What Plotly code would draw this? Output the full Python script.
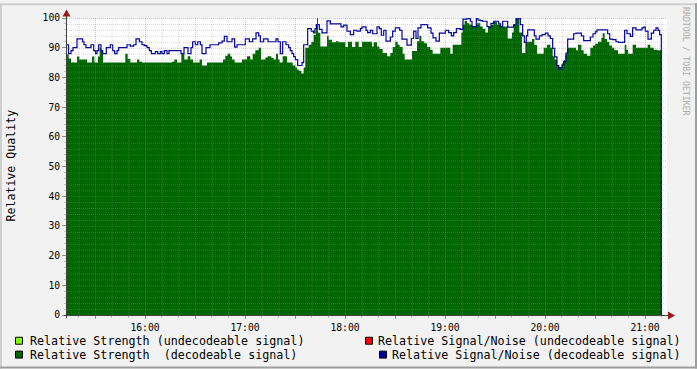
import plotly.graph_objects as go
from datetime import datetime, timedelta

# ---------------- data (minutes after 15:00, values in %) ----------------
snr_minutes = [13.2, 14.1, 15.6, 16.8, 19.2, 22.6, 23.4, 24.6, 27.6, 29.2, 30.3, 31.2, 32.2, 33.6, 34.6,
               36.8, 39.2, 40.6, 41.8, 43.2, 44.2, 49.2, 51.2, 53.2, 54.6, 56.6, 58.2, 59.6, 61.2, 62.6,
               63.8, 66.2, 67.6, 69.2, 70.2, 71.6, 73.2, 74.4, 81.6, 83.4, 85.8, 87.6, 88.6, 90.2, 91.6,
               93.2, 94.2, 96.6, 99.0, 104.2, 106.2, 107.6, 109.2, 112.2, 113.8, 115.2, 120.2, 122.6,
               124.6, 126.6, 128.2, 129.2, 131.2, 133.8, 138.6, 139.8, 141.2, 142.6, 144.6, 146.2, 147.2,
               148.2, 149.2, 150.2, 151.6, 154.2, 155.2, 157.6, 159.8, 161.2, 162.0, 162.8, 164.6, 166.2,
               169.2, 171.2, 177.6, 179.2, 181.2, 183.2, 185.2, 187.2, 189.2, 190.2, 192.6, 193.6, 195.2,
               196.6, 199.2, 200.6, 201.8, 203.2, 204.6, 207.2, 208.6, 210.2, 212.8, 214.2, 217.2, 219.8,
               221.2, 222.6, 223.8, 225.6, 229.6, 231.6, 232.8, 234.6, 236.6, 240.2, 242.2, 243.8, 245.2,
               246.8, 249.2, 250.8, 253.2, 255.2, 256.2, 258.8, 259.8, 261.2, 262.6, 265.2, 266.4, 267.6,
               269.2, 272.2, 273.2, 274.6, 277.6, 281.2, 282.6, 285.2, 286.6, 287.6, 288.8, 289.6, 293.6,
               294.6, 296.6, 298.2, 300.2, 301.8, 303.2, 304.6, 305.8, 307.2, 308.2, 310.2, 311.2, 312.6,
               313.6, 317.2, 318.6, 321.8, 323.2, 327.2, 328.8, 330.2, 331.2, 337.6, 338.8, 340.6, 342.6,
               344.2, 347.8, 349.2, 351.2, 352.6, 354.6, 358.2, 359.2, 360.2, 361.8, 363.8, 365.2, 366.6,
               367.8, 368.8, 369.8]
snr_values = [91, 88, 89, 90, 93, 92, 91, 90, 91, 89, 88, 89, 91, 89, 88,
              90, 91, 89, 88, 89, 90, 91, 90.5, 91, 93, 92, 91, 90.7, 90, 89,
              88, 88.7, 88, 88.7, 88, 89, 88, 89, 88, 90, 88, 90, 92, 91, 92,
              91, 88, 90, 91, 91.6, 92.2, 93.8, 92, 93, 90.2, 91, 93, 92,
              93, 95, 94, 92, 93, 92, 93, 92, 88, 92, 91, 90, 89,
              88, 87, 86, 84, 85, 91, 96.4, 95.6, 95, 96.4, 97.8, 96.2, 95,
              99, 98, 97, 97.6, 95.6, 94.4, 95.8, 95.6, 96.4, 97, 95.8, 95.1, 95.8,
              94.7, 97, 96.4, 94.2, 95.8, 92.2, 93.6, 95.6, 96.7, 95.8, 92.9, 90.9, 93.1,
              95.6, 93.1, 96.7, 97.8, 96.7, 94.9, 93.3, 92.2, 94.9, 95.8, 95.1, 94, 95.1,
              96.4, 96.2, 99.6, 99.8, 98.9, 97.1, 99.8, 99.3, 99.1, 98.9, 97.1, 96.9, 98.2,
              98.9, 98, 97.1, 98.9, 96.9, 97.8, 99.8, 97.8, 94, 91.8, 94, 96, 94,
              92.9, 94, 94.4, 94.9, 94, 93.1, 89.8, 86.9, 84, 82.9, 84.2, 85.3, 88.2,
              92.9, 94.7, 94.9, 94, 92.4, 93.6, 94.7, 95.3, 96, 94.7, 92.9, 92.7, 92,
              91.8, 95.8, 94.7, 93.8, 96.7, 96, 96.7, 96.9, 95.6, 92.9, 94.9, 95.8, 96.7,
              95.8, 94.4, 0]

strength_minutes = [13.2, 14.2, 15.6, 19.2, 20.6, 25.2, 28.2, 29.6, 31.8, 32.8, 33.6, 34.8, 48.2, 49.6,
                    51.2, 55.2, 56.6, 58.2, 76.2, 77.6, 79.2, 81.8, 83.6, 85.6, 87.2, 88.8, 92.8, 94.2,
                    97.2, 106.8, 108.2, 109.6, 111.2, 112.2, 113.8, 118.2, 121.2, 123.2, 124.6, 126.2,
                    128.2, 129.6, 132.2, 133.6, 135.8, 137.2, 138.6, 139.8, 140.8, 142.6, 145.2, 148.6,
                    150.2, 151.2, 152.2, 153.8, 155.2, 156.2, 158.2, 159.8, 161.2, 162.6, 163.2, 163.8,
                    165.2, 169.2, 170.2, 172.2, 174.6, 176.2, 180.2, 181.8, 184.2, 186.2, 188.2, 190.2,
                    196.2, 197.2, 199.2, 200.6, 202.6, 205.2, 207.2, 208.6, 210.2, 211.6, 212.8, 214.6,
                    215.8, 220.2, 223.2, 224.6, 225.8, 227.6, 229.2, 231.2, 232.6, 237.2, 243.2, 244.6,
                    249.8, 250.6, 251.8, 253.2, 254.6, 256.2, 259.2, 261.2, 262.6, 264.2, 265.8, 267.8,
                    269.2, 271.2, 273.2, 277.6, 280.2, 281.2, 282.6, 284.6, 286.2, 288.2, 292.2, 293.6,
                    295.2, 299.2, 301.2, 303.2, 304.6, 305.8, 307.2, 308.2, 310.2, 311.2, 312.2, 313.2,
                    318.6, 319.8, 321.8, 323.2, 325.2, 327.2, 328.8, 330.2, 331.8, 333.8, 334.6, 335.8,
                    337.2, 338.6, 340.2, 341.6, 343.8, 347.8, 348.8, 349.8, 352.6, 354.6, 361.6, 363.2,
                    365.2, 367.2, 369.8]
strength_values = [87.8, 86.4, 85, 87, 86, 85, 87, 85, 87, 90, 89, 85, 88, 86.2,
                   85, 86, 85.3, 85, 85.3, 86, 85, 88, 86, 87.1, 86, 85, 86, 84,
                   85, 86, 87.3, 88, 87, 86, 85, 86, 87.1, 86, 88, 89.1,
                   90, 86, 86.7, 87.1, 86.5, 86, 88, 86, 85, 87.1, 85, 84,
                   83.3, 82.7, 82.2, 81.3, 83.3, 90, 91, 92, 94.4, 98, 100, 95,
                   90.4, 94, 92.7, 91.8, 92.2, 91.8, 90.2, 92, 90.2, 92, 90.2, 92,
                   90.4, 91.8, 90.4, 89.6, 88.2, 87.1, 88.2, 90.2, 92, 91, 90.2, 88,
                   86, 88.9, 92.2, 94, 92.2, 91.5, 90.2, 89.3, 88, 90, 88, 91,
                   95.1, 97.8, 99.1, 98.2, 97.8, 97.1, 98.2, 97.1, 96.4, 95.1, 97.1, 97.8,
                   98.7, 97.8, 97.1, 93.1, 95.1, 97.8, 99.8, 95.1, 88.2, 92, 92.9, 90.9,
                   88, 90, 91, 90, 87.1, 86, 84, 83.6, 84.7, 85.8, 87.8, 90,
                   89.1, 91, 89.1, 88, 87.3, 90, 90.7, 91.3, 92, 93.3, 94.9, 92.9,
                   92, 90.7, 90, 89.1, 88, 91, 89.3, 88, 91, 90, 91, 90,
                   89.3, 89.1, 89.1]

hour_labels = ["16:00", "17:00", "18:00", "19:00", "20:00", "21:00"]
legend_labels = ["Relative Strength (undecodeable signal)",
                 "Relative Strength\u00a0 (decodeable signal)",
                 "Relative Signal/Noise (undecodeable signal)",
                 "Relative Signal/Noise (decodeable signal)"]
legend_colors = ["#80FF00", "#006600", "#FF0000", "#000099"]

BASE = datetime(2024, 1, 1, 15, 0, 0)


def tm(m):
    return BASE + timedelta(minutes=m)


W, H = 697, 369
L, R, T, B = 67, 30, 15, 54
PW, PH = W - L - R, H - T - B


def PX(px):
    return (px - L) / PW


def PY(py):
    return (T + PH - py) / PH


MONO = "DejaVu Sans Mono"

fig = go.Figure()
fig.add_trace(go.Scatter(
    x=[tm(m) for m in strength_minutes], y=strength_values, mode="lines",
    line=dict(shape="hv", width=0, color="#006600"),
    fill="tozeroy", fillcolor="#006600", hoverinfo="skip", showlegend=False))
fig.add_trace(go.Scatter(
    x=[tm(m) for m in snr_minutes], y=snr_values, mode="lines",
    line=dict(shape="hv", width=1.2, color="#000099"),
    hoverinfo="skip", showlegend=False))

shapes = []
GRID = "rgba(143,143,143,0.35)"
MGRID = "rgba(222,79,79,0.4)"
HALF_Y = 0.5 * 100 / PH          # half a pixel in value units
HALF_M = 0.5 * 360 / PW          # half a pixel in minutes
# horizontal grid
for v in range(2, 101, 2):
    shapes.append(dict(type="line", xref="paper", yref="y", x0=0, x1=1, y0=v - HALF_Y, y1=v - HALF_Y,
                       layer="above",
                       line=dict(color=MGRID if v % 10 == 0 else GRID, width=1, dash="1px,1px")))
# vertical grid
for m in range(20, 371, 10):
    shapes.append(dict(type="line", xref="x", yref="paper", x0=tm(m + HALF_M), x1=tm(m + HALF_M),
                       y0=0, y1=1, layer="above",
                       line=dict(color=MGRID if m % 30 == 0 else GRID, width=1, dash="1px,1px")))
# axes
AX = "#404040"
shapes.append(dict(type="line", xref="paper", yref="paper", x0=PX(64), x1=PX(670), y0=PY(315.5), y1=PY(315.5),
                   line=dict(color=AX, width=1), layer="above"))
shapes.append(dict(type="line", xref="paper", yref="paper", x0=PX(66.5), x1=PX(66.5), y0=PY(318), y1=PY(11),
                   line=dict(color=AX, width=1), layer="above"))
ARROW = "#9a1a1a"
shapes.append(dict(type="path", xref="paper", yref="paper",
                   path=f"M {PX(668)} {PY(311.5)} L {PX(675)} {PY(315.5)} L {PX(668)} {PY(319.5)} Z",
                   fillcolor=ARROW, line=dict(width=0), layer="above"))
shapes.append(dict(type="path", xref="paper", yref="paper",
                   path=f"M {PX(62.5)} {PY(13.5)} L {PX(66.5)} {PY(6.5)} L {PX(70.5)} {PY(13.5)} Z",
                   fillcolor=ARROW, line=dict(width=0), layer="above"))
# frame (3d shade)
shapes.append(dict(type="rect", xref="paper", yref="paper", x0=PX(0), x1=PX(2), y0=PY(369), y1=PY(0),
                   fillcolor="#CFCFCF", line=dict(width=0), layer="below"))
shapes.append(dict(type="rect", xref="paper", yref="paper", x0=PX(0), x1=PX(697), y0=PY(2), y1=PY(0),
                   fillcolor="#CFCFCF", line=dict(width=0), layer="below"))
shapes.append(dict(type="rect", xref="paper", yref="paper", x0=PX(695), x1=PX(697), y0=PY(369), y1=PY(0),
                   fillcolor="#9E9E9E", line=dict(width=0), layer="below"))
shapes.append(dict(type="rect", xref="paper", yref="paper", x0=PX(0), x1=PX(697), y0=PY(369), y1=PY(367),
                   fillcolor="#9E9E9E", line=dict(width=0), layer="below"))

# legend
annotations = []
legend_pos = [(15.5, 341, 29.5, "left"), (15.5, 355, 29.5, "left"),
              (365.5, 341, 680.5, "right"), (379.5, 355, 680.5, "right")]
for (sx, cy, tx, anch), lab, col in zip(legend_pos, legend_labels, legend_colors):
    shapes.append(dict(type="rect", xref="paper", yref="paper", x0=PX(sx), x1=PX(sx + 7),
                       y0=PY(cy + 3.5), y1=PY(cy - 3.5), fillcolor=col,
                       line=dict(color="black", width=1), layer="above"))
    annotations.append(dict(xref="paper", yref="paper", x=PX(tx), y=PY(cy), xanchor=anch, yanchor="middle",
                            text=lab, showarrow=False, borderpad=0, borderwidth=0,
                            font=dict(family=MONO, size=11.7, color="black")))

annotations.append(dict(xref="paper", yref="paper", x=PX(11), y=PY(164), text="Relative Quality",
                        textangle=-90, showarrow=False, xanchor="center", yanchor="middle",
                        font=dict(family=MONO, size=11.6, color="black")))
annotations.append(dict(xref="paper", yref="paper", x=PX(686.5), y=PY(59), text="RRDTOOL / TOBI OETIKER",
                        textangle=90, showarrow=False, xanchor="center", yanchor="middle",
                        font=dict(family=MONO, size=8.2, color="#ABABAB")))

tick_minutes = list(range(30, 373, 30))
tick_text = [hour_labels[(m // 60) - 1] if m % 60 == 0 else "" for m in tick_minutes]

fig.update_layout(
    width=W, height=H, margin=dict(l=L, r=R, t=T, b=B, pad=0),
    paper_bgcolor="#F2F2F2", plot_bgcolor="#FFFFFF",
    shapes=shapes, annotations=annotations, showlegend=False,
    font=dict(family=MONO, size=9.7, color="black"),
    xaxis=dict(type="date", range=[tm(13.2), tm(373.2)], showgrid=False, zeroline=False, showline=False,
               tickmode="array", tickvals=[tm(m) for m in tick_minutes], ticktext=tick_text,
               ticks="outside", ticklen=3, tickwidth=1, tickcolor="rgba(222,79,79,0.7)",
               minor=dict(tick0=tm(0), dtick=600000, ticks="outside", ticklen=2,
                          tickcolor="rgba(143,143,143,0.5)", showgrid=False),
               tickfont=dict(family=MONO, size=9.7, color="black"), fixedrange=True),
    yaxis=dict(range=[0, 100], showgrid=False, zeroline=False, showline=False,
               tickmode="linear", tick0=0, dtick=10,
               ticks="outside", ticklen=4, tickwidth=1, tickcolor="#8F8F8F",
               minor=dict(dtick=2, ticks="outside", ticklen=2, tickcolor="rgba(143,143,143,0.5)",
                          showgrid=False),
               tickfont=dict(family=MONO, size=9.7, color="black"), fixedrange=True),
)

fig.write_html("out.html")
